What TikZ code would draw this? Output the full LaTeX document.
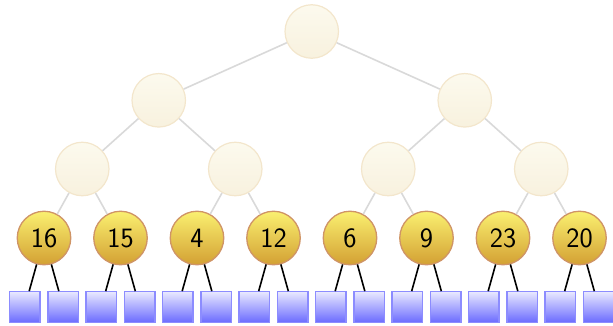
\documentclass[tikz,border=0pt]{standalone}
\usetikzlibrary{positioning}
\definecolor{fadetop}{HTML}{FCFAEE}
\definecolor{fadebot}{HTML}{F8F1DE}
\definecolor{fadeline}{HTML}{F3E6CC}
\definecolor{leaftop}{HTML}{FAF070}
\definecolor{leafbot}{HTML}{D3A033}
\definecolor{leafline}{HTML}{CF9466}
\definecolor{sqtop}{HTML}{E8E8FF}
\definecolor{sqbot}{HTML}{6C6CFF}
\definecolor{sqline}{HTML}{8C8CFF}
\definecolor{edgegray}{HTML}{D9D9D9}
\tikzset{
  fadenode/.style={circle, minimum size=53.5pt, inner sep=0pt, line width=1.2pt, draw=fadeline, top color=fadetop, bottom color=fadebot},
  leafnode/.style={circle, minimum size=53.5pt, inner sep=0pt, line width=1.3pt, draw=leafline, top color=leaftop, bottom color=leafbot, font=\sffamily\fontsize{28}{28}\selectfont},
  sqnode/.style={rectangle, minimum size=30.5pt, inner sep=0pt, line width=1.2pt, draw=sqline, top color=sqtop, bottom color=sqbot},
  grayedge/.style={draw=edgegray, line width=1.6pt},
  blackedge/.style={draw=black, line width=1.6pt}
}
\begin{document}
\begin{tikzpicture}[x=1pt,y=-1pt]
\useasboundingbox (0,0) rectangle (613,326);
% root and internal
\node[fadenode] (r) at (311.75,31.5) {};
\node[fadenode] (a) at (158.75,100.3) {};
\node[fadenode] (b) at (464.75,100.3) {};
\node[fadenode] (a1) at (82.25,169) {};
\node[fadenode] (a2) at (235.25,169) {};
\node[fadenode] (b1) at (388.25,169) {};
\node[fadenode] (b2) at (541.25,169) {};
% leaves
\foreach \i/\v in {0/16,1/15,2/4,3/12,4/6,5/9,6/23,7/20}{
  \node[leafnode] (l\i) at ({44+76.5*\i},238) {\v};
  \node[sqnode] (s\i a) at ({44+76.5*\i-19.25},307) {};
  \node[sqnode] (s\i b) at ({44+76.5*\i+19.25},307) {};
  \draw[blackedge] (l\i) -- (s\i a);
  \draw[blackedge] (l\i) -- (s\i b);
}
\draw[grayedge] (r) -- (a);
\draw[grayedge] (r) -- (b);
\draw[grayedge] (a) -- (a1);
\draw[grayedge] (a) -- (a2);
\draw[grayedge] (b) -- (b1);
\draw[grayedge] (b) -- (b2);
\draw[grayedge] (a1) -- (l0);
\draw[grayedge] (a1) -- (l1);
\draw[grayedge] (a2) -- (l2);
\draw[grayedge] (a2) -- (l3);
\draw[grayedge] (b1) -- (l4);
\draw[grayedge] (b1) -- (l5);
\draw[grayedge] (b2) -- (l6);
\draw[grayedge] (b2) -- (l7);
\end{tikzpicture}
\end{document}
